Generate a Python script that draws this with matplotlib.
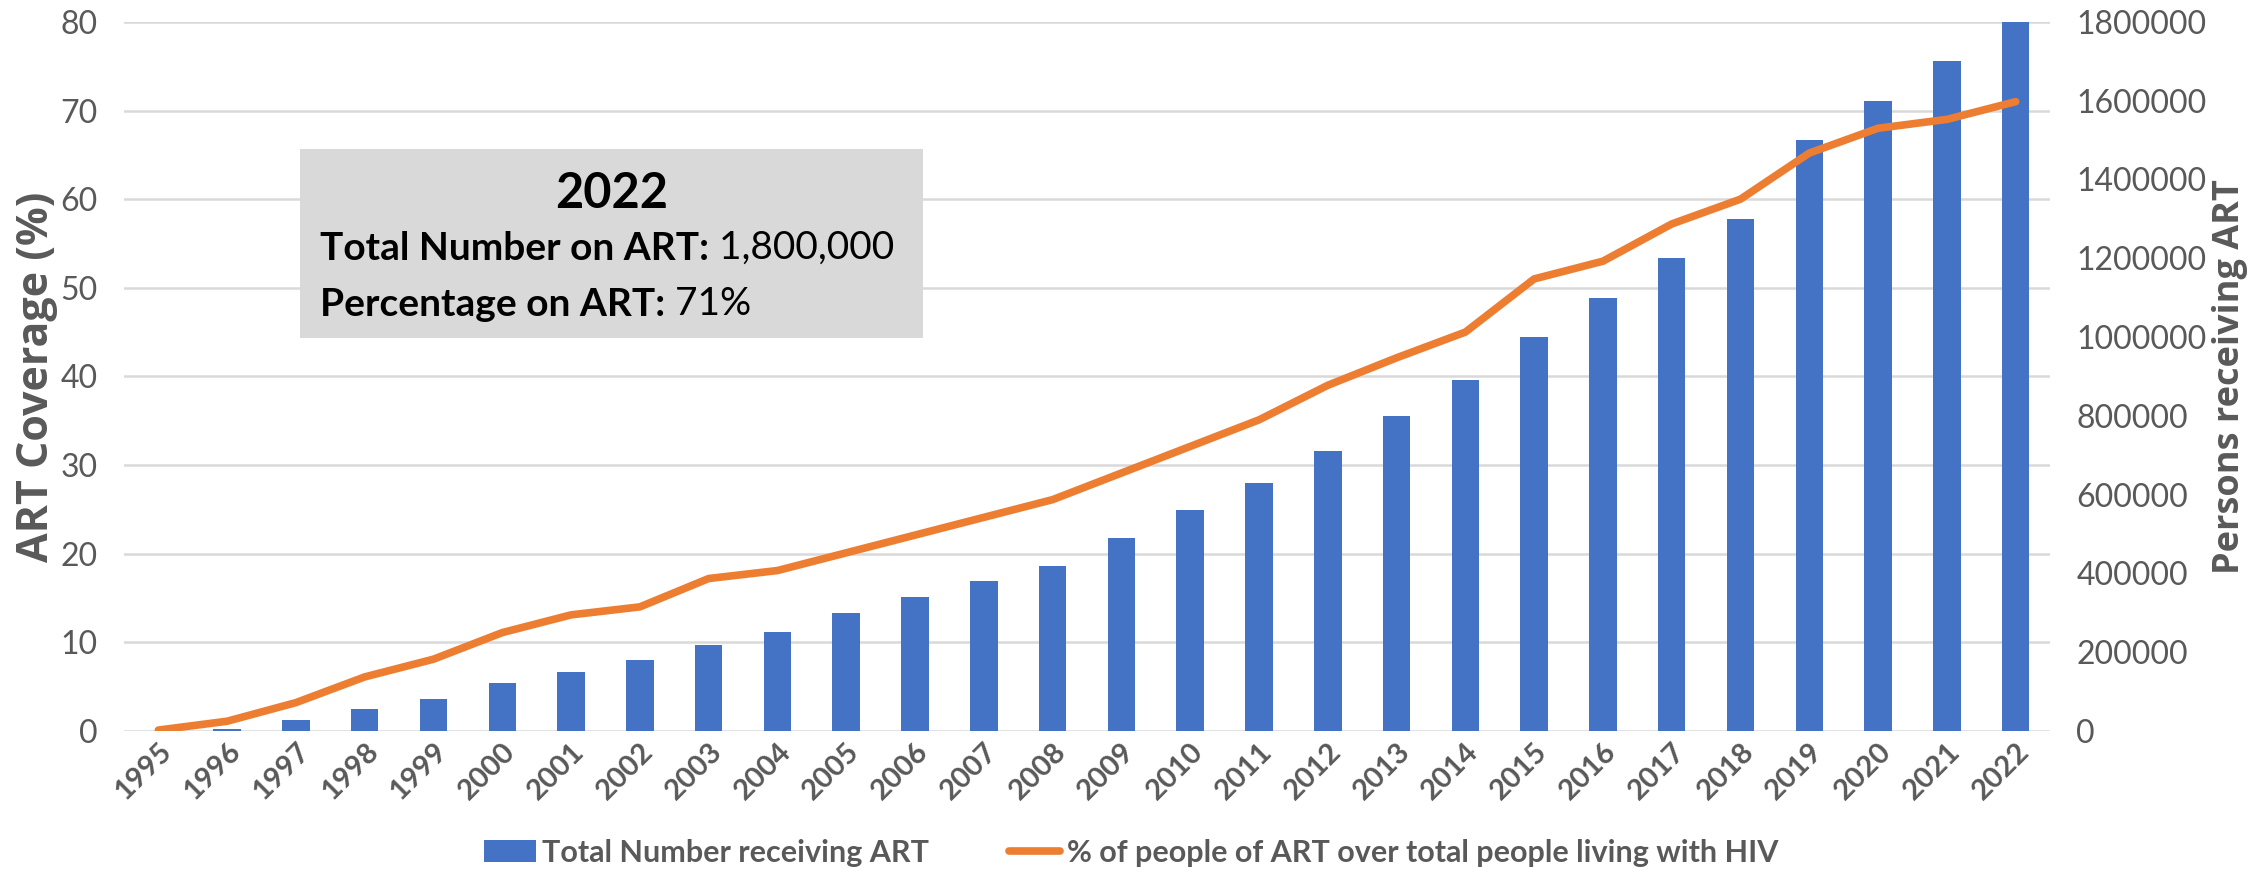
import numpy as np
import matplotlib.pyplot as plt
import matplotlib.transforms as mtransforms
from matplotlib.patches import Rectangle

years = [str(y) for y in range(1995, 2023)]
persons = [0, 5000, 28000, 55000, 82000, 121000, 149000, 180000, 219000, 250000,
           300000, 340000, 380000, 420000, 490000, 560000, 630000, 710000, 800000, 890000,
           1000000, 1100000, 1200000, 1300000, 1500000, 1600000, 1700000, 1800000]
coverage = [0.1, 1.1, 3.2, 6.1, 8.1, 11.1, 13.1, 14.0, 17.2, 18.1,
            20.1, 22.1, 24.1, 26.1, 29.1, 32.1, 35.1, 39.0, 42.1, 45.0,
            51.0, 53.0, 57.2, 60.0, 65.2, 68.0, 69.0, 71.0]

blue = "#4472C4"
orange = "#ED7D31"
grey = "#595959"
body = ["Lato", "DejaVu Sans"]
heavy = ["Open Sans", "DejaVu Sans"]

fig = plt.figure(figsize=(22.62, 8.75), dpi=100)
ax = fig.add_axes([0.0548, 0.1646, 0.8515, 0.8104])   # left scale + grid
ax2 = ax.twinx()                                       # bars (right scale)
ax3 = ax.twinx()                                       # line on top
ax.set_zorder(0)
ax2.set_zorder(1)
ax3.set_zorder(2)
ax2.patch.set_visible(False)
ax3.patch.set_visible(False)

x = np.arange(len(years))
bars = ax2.bar(x, persons, width=0.4, color=blue, label="Total Number receiving ART")
line, = ax3.plot(x, coverage, color=orange, lw=5.5, solid_capstyle="round",
                 solid_joinstyle="round",
                 label="% of people of ART over total people living with HIV")

ax.set_xlim(-0.5, len(years) - 0.5)
ax.set_ylim(0, 80)
ax3.set_ylim(0, 80)
ax2.set_ylim(0, 1800000)
ax.set_yticks(range(0, 81, 10))
ax2.set_yticks(range(0, 1800001, 200000))
ax2.ticklabel_format(axis="y", style="plain", useOffset=False)
ax3.set_yticks([])
ax.set_xticks(x)
ax.set_xticklabels(years, rotation=45, ha="right", rotation_mode="anchor",
                   fontweight="bold", family=body, fontsize=21, color=grey)
shift = mtransforms.ScaledTranslation(0.09, 0, fig.dpi_scale_trans)
for t in ax.get_xticklabels():
    t.set_transform(t.get_transform() + shift)
ax.grid(axis="y", color="#D9D9D9", lw=1.8)

for a in (ax, ax2, ax3):
    for s in a.spines.values():
        s.set_visible(False)
    a.tick_params(length=0)
ax.tick_params(axis="y", labelsize=23, labelcolor=grey, pad=19)
ax2.tick_params(axis="y", labelsize=23, labelcolor=grey, pad=19)
ax.tick_params(axis="x", pad=5)
for t in ax.get_yticklabels() + ax2.get_yticklabels():
    t.set_family(body)

ax.set_ylabel("ART Coverage (%)", fontsize=31, fontweight="bold", color=grey,
              family=heavy, labelpad=2)
ax2.set_ylabel("Persons receiving ART", fontsize=26, fontweight="bold", color=grey,
               family=heavy, labelpad=4)

# info box
ax3.add_patch(Rectangle((0.0914, 0.554), 0.3234, 0.267, transform=ax3.transAxes,
                        facecolor="#D9D9D9", edgecolor="none", zorder=5))
ax3.text(0.2531, 0.758, "2022", transform=ax3.transAxes, ha="center", va="center",
         fontsize=35, fontweight="bold", family=body, zorder=6)
t1 = ax3.text(0.1018, 0.681, "Total Number on ART:", transform=ax3.transAxes,
              ha="left", va="center", fontsize=28, fontweight="bold", family=body, zorder=6)
ax3.annotate(" 1,800,000", xy=(1, 0.5), xycoords=t1, ha="left", va="center",
             fontsize=28, family=body, zorder=6)
t2 = ax3.text(0.1018, 0.602, "Percentage on ART:", transform=ax3.transAxes,
              ha="left", va="center", fontsize=28, fontweight="bold", family=body, zorder=6)
ax3.annotate(" 71%", xy=(1, 0.5), xycoords=t2, ha="left", va="center",
             fontsize=28, family=body, zorder=6)

leg = fig.legend(handles=[bars, line], loc="lower center", bbox_to_anchor=(0.5, 0.006),
                 ncol=2, frameon=False, columnspacing=2.6, handlelength=1.7,
                 handletextpad=0.2, borderaxespad=0.0, borderpad=0.1,
                 prop={"family": body, "weight": "bold", "size": 22})
for t in leg.get_texts():
    t.set_color(grey)

fig.savefig("out.png", dpi=100)
